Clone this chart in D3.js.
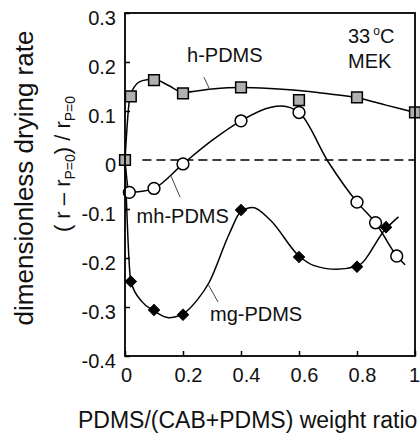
<!DOCTYPE html>
<html><head><meta charset="utf-8">
<script src="https://cdn.jsdelivr.net/npm/d3@7"></script>
<style>body{margin:0;background:#fff}svg{display:block}text{font-family:Arial,"Liberation Sans",sans-serif;fill:#111}</style>
</head><body><svg id="c" width="420" height="436"></svg>
<script>
// measured points
const hX = [0, 0.02, 0.1, 0.2, 0.4, 0.6, 0.8, 1.0];
const hY = [0, 0.13, 0.163, 0.136, 0.148, 0.122, 0.128, 0.097];
const mhX = [0.015, 0.1, 0.2, 0.4, 0.6, 0.8, 0.864, 0.937];
const mhY = [-0.066, -0.058, -0.008, 0.080, 0.097, -0.086, -0.128, -0.196];
const mgX = [0.02, 0.1, 0.2, 0.4, 0.6, 0.8, 0.9];
const mgY = [-0.248, -0.306, -0.316, -0.102, -0.198, -0.218, -0.137];
// fitted curves
const hCurveX = [0, 0.015, 0.03, 0.06, 0.1, 0.15, 0.2, 0.3, 0.4, 0.5, 0.6, 0.7, 0.8, 0.9, 1.0];
const hCurveY = [0, 0.12, 0.147, 0.162, 0.165, 0.152, 0.138, 0.145, 0.148, 0.146, 0.142, 0.135, 0.127, 0.112, 0.097];
const mhCurveX = [0, 0.015, 0.06, 0.1, 0.2, 0.3, 0.4, 0.5, 0.54, 0.6, 0.7, 0.8, 0.864, 0.937, 0.966];
const mhCurveY = [0, -0.066, -0.064, -0.058, -0.008, 0.04, 0.08, 0.107, 0.110, 0.097, -0.003, -0.086, -0.128, -0.196, -0.214];
const mgCurveX = [0, 0.02, 0.06, 0.1, 0.15, 0.2, 0.25, 0.29, 0.36, 0.4, 0.44, 0.5, 0.6, 0.65, 0.73, 0.8, 0.9, 0.943];
const mgCurveY = [0, -0.248, -0.29, -0.308, -0.322, -0.314, -0.285, -0.25, -0.15, -0.105, -0.097, -0.122, -0.196, -0.215, -0.223, -0.217, -0.14, -0.116];
const xTicks = [0, 0.2, 0.4, 0.6, 0.8, 1];
const xTickLabels = ["0", "0.2", "0.4", "0.6", "0.8", "1"];
const yTicks = [0.3, 0.2, 0.1, 0, -0.1, -0.2, -0.3, -0.4];
const yTickLabels = ["0.3", "0.2", "0.1", "0", "-0.1", "-0.2", "-0.3", "-0.4"];
const seriesLabels = ["h-PDMS", "mh-PDMS", "mg-PDMS"];
const labelPos = [[0.214, 0.2006], [0.04, -0.129], [0.293, -0.329]];
const leaders = [[[0.272, 0.169], [0.293, 0.143]], [[0.159, -0.033], [0.19, -0.076]], [[0.286, -0.253], [0.321, -0.29]]];

const svg = d3.select("#c");
const x = d3.scaleLinear().domain([0, 1]).range([125, 415]);
const y = d3.scaleLinear().domain([-0.4, 0.3]).range([356, 13]);

// axes ticks
const gx = svg.append("g").attr("transform", "translate(0,356)")
  .call(d3.axisBottom(x).tickValues(xTicks).tickFormat((d, i) => xTickLabels[i]).tickSize(-5).tickPadding(12));
gx.select(".domain").remove();
gx.selectAll("text").attr("font-size", 20).attr("x", (d, i) => xTickLabels[i].includes(".") ? 5 : (d === 1 ? -1 : 1))
  .style("font-family", "Arial, 'Liberation Sans', sans-serif").attr("fill", "#111");
gx.selectAll("line").attr("stroke", "#000").attr("stroke-width", 1.5);
const gy = svg.append("g").attr("transform", "translate(125,0)")
  .call(d3.axisLeft(y).tickValues(yTicks).tickFormat((d, i) => yTickLabels[i]).tickSize(-5).tickPadding(9));
gy.select(".domain").remove();
gy.selectAll("text").attr("font-size", 20).attr("y", 5).style("font-family", "Arial, 'Liberation Sans', sans-serif").attr("fill", "#111");
gy.selectAll("line").attr("stroke", "#000").attr("stroke-width", 1.5);

// zero dashed line
svg.append("line").attr("x1", x(0.06)).attr("x2", x(1)).attr("y1", y(0)).attr("y2", y(0))
  .attr("stroke", "#000").attr("stroke-width", 1.5).attr("stroke-dasharray", "9,5");

const line = d3.line().x(d => x(d[0])).y(d => y(d[1])).curve(d3.curveMonotoneX);
const curves = [[hCurveX, hCurveY], [mhCurveX, mhCurveY], [mgCurveX, mgCurveY]];
curves.forEach(([cx, cy]) => {
  svg.append("path").attr("d", line(cx.map((v, i) => [v, cy[i]])))
    .attr("fill", "none").attr("stroke", "#000").attr("stroke-width", 1.5);
});

// leaders
leaders.forEach(l => {
  svg.append("line").attr("x1", x(l[0][0])).attr("y1", y(l[0][1])).attr("x2", x(l[1][0])).attr("y2", y(l[1][1]))
    .attr("stroke", "#444").attr("stroke-width", 1);
});

// markers
const circ = d3.symbol().type(d3.symbolCircle).size(110);
const sq = d3.symbol().type(d3.symbolSquare).size(115);
const dia = d3.symbol().type(d3.symbolSquare).size(62);
svg.append("g").selectAll("path").data(mgX).join("path")
  .attr("d", dia).attr("transform", (d, i) => `translate(${x(d)},${y(mgY[i])}) rotate(45)`)
  .attr("fill", "#000").attr("stroke", "#000").attr("stroke-width", 1);
svg.append("g").selectAll("path").data(mhX).join("path")
  .attr("d", circ).attr("transform", (d, i) => `translate(${x(d)},${y(mhY[i])})`)
  .attr("fill", "#fff").attr("stroke", "#000").attr("stroke-width", 1.5);
svg.append("g").selectAll("path").data(hX).join("path")
  .attr("d", sq).attr("transform", (d, i) => `translate(${x(d)},${y(hY[i])})`)
  .attr("fill", "#b0b0b0").attr("stroke", "#000").attr("stroke-width", 1.5);

// frame
svg.append("rect").attr("x", 125).attr("y", 13).attr("width", 290).attr("height", 343)
  .attr("fill", "none").attr("stroke", "#000").attr("stroke-width", 1.8);

// series labels
seriesLabels.forEach((t, i) => {
  svg.append("text").attr("x", x(labelPos[i][0])).attr("y", y(labelPos[i][1])).attr("font-size", 20).text(t);
});

// condition text
const t1 = svg.append("text").attr("x", x(0.769)).attr("y", y(0.239)).attr("font-size", 20);
t1.append("tspan").text("33");
t1.append("tspan").attr("font-size", 12).attr("dx", 3).attr("dy", -8).text("o");
t1.append("tspan").attr("dy", 8).text("C");
svg.append("text").attr("x", x(0.769)).attr("y", y(0.188)).attr("font-size", 20).text("MEK");

// axis titles
svg.append("text").attr("x", 78).attr("y", 428).attr("font-size", 23).text("PDMS/(CAB+PDMS) weight ratio");
svg.append("text").attr("transform", "translate(33,178) rotate(-90)").attr("text-anchor", "middle")
  .attr("font-size", 26).text("dimensionless drying rate");
const yl2 = svg.append("text").attr("transform", "translate(70,164) rotate(-90)").attr("text-anchor", "middle").attr("font-size", 22);
yl2.append("tspan").text("( r – r");
yl2.append("tspan").attr("font-size", 14).attr("dy", 5).text("P=0");
yl2.append("tspan").attr("dy", -5).text(") / r");
yl2.append("tspan").attr("font-size", 14).attr("dy", 5).text("P=0");
</script></body></html>
